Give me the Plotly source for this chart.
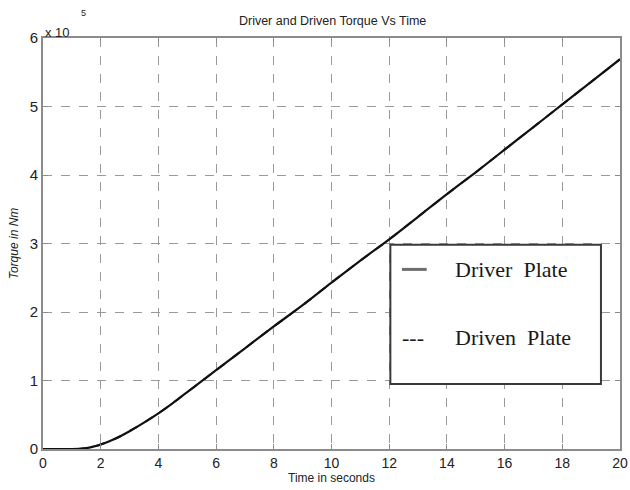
import plotly.graph_objects as go

# Time samples (s) and torque (units of 1e5 N·m)
time_s = [0, 0.5, 1.0, 1.25, 1.5, 1.75, 2.0, 2.5, 3.0, 3.5, 4.0, 4.5, 5.0, 5.5,
          6.0, 7.0, 8.0, 9.0, 10.0, 11.0, 12.0, 13.0, 14.0, 15.0, 16.0, 17.0,
          18.0, 19.0, 20.0]
driver_torque = [0, 0, 0, 0.003, 0.012, 0.035, 0.065, 0.15, 0.26, 0.385, 0.52,
                 0.67, 0.83, 0.99, 1.15, 1.47, 1.79, 2.10, 2.43, 2.75, 3.06,
                 3.39, 3.72, 4.04, 4.37, 4.70, 5.03, 5.36, 5.69]
driven_torque = [0, 0, 0, 0.003, 0.012, 0.035, 0.065, 0.15, 0.26, 0.385, 0.52,
                 0.67, 0.83, 0.99, 1.15, 1.47, 1.79, 2.10, 2.43, 2.75, 3.06,
                 3.39, 3.72, 4.04, 4.37, 4.70, 5.03, 5.36, 5.69]

x_ticks = [0, 2, 4, 6, 8, 10, 12, 14, 16, 18, 20]
y_ticks = [0, 1, 2, 3, 4, 5, 6]

fig = go.Figure()
fig.add_trace(go.Scatter(x=time_s, y=driven_torque, mode="lines", name="Driven Plate",
                         line=dict(color="#2a2a6a", width=2, dash="dash", shape="spline")))
fig.add_trace(go.Scatter(x=time_s, y=driver_torque, mode="lines", name="Driver Plate",
                         line=dict(color="#111111", width=2.2, shape="spline")))

axis_common = dict(
    showgrid=True, gridcolor="#9a9a9a", gridwidth=1, griddash="dash",
    showline=True, linecolor="#8c8c8c", linewidth=2, mirror="ticks",
    ticks="inside", ticklen=5, tickcolor="#8c8c8c",
    zeroline=False, automargin=False,
)

fig.update_xaxes(range=[0, 20], tickvals=x_ticks, ticktext=[str(v) for v in x_ticks],
                 tickfont=dict(family="Liberation Sans, Arial", size=14, color="#222222"),
                 title=dict(text="Time in seconds", standoff=2,
                            font=dict(family="Liberation Sans, Arial", size=12, color="#222222")),
                 **axis_common)
fig.update_yaxes(range=[0, 6], tickvals=y_ticks, ticktext=[str(v) for v in y_ticks],
                 tickfont=dict(family="Liberation Sans, Arial", size=15, color="#222222"),
                 title=dict(text="<i>Torque in Nm</i>", standoff=8,
                            font=dict(family="Liberation Sans, Arial", size=12, color="#222222")),
                 **axis_common)

# Legend box drawn as a framed panel
legend_shapes = [
    dict(type="rect", xref="paper", yref="paper", x0=0.602, x1=0.967, y0=0.158, y1=0.497,
         fillcolor="white", line=dict(color="#3a3a3a", width=2), layer="above"),
    dict(type="line", xref="paper", yref="paper", x0=0.622, x1=0.665, y0=0.437, y1=0.437,
         line=dict(color="#6e6e6e", width=3), layer="above"),
]

legend_font = dict(family="Liberation Serif, Times New Roman", size=22, color="#1a1a1a")
annotations = [
    dict(text="Driver&nbsp;&nbsp;Plate", xref="paper", yref="paper", x=0.710, y=0.437,
         xanchor="left", yanchor="middle", showarrow=False, font=legend_font),
    dict(text="---", xref="paper", yref="paper", x=0.641, y=0.272,
         xanchor="center", yanchor="middle", showarrow=False, font=legend_font),
    dict(text="Driven&nbsp;&nbsp;Plate", xref="paper", yref="paper", x=0.710, y=0.272,
         xanchor="left", yanchor="middle", showarrow=False, font=legend_font),
    dict(text="x 10", xref="paper", yref="paper", x=0.0, y=1.0, xanchor="left", yanchor="bottom",
         yshift=-4, showarrow=False,
         font=dict(family="Liberation Sans, Arial", size=13, color="#222222")),
    dict(text="5", xref="paper", yref="paper", x=0.063, y=1.045, xanchor="left", yanchor="bottom",
         showarrow=False, font=dict(family="Liberation Sans, Arial", size=9, color="#222222")),
]

fig.update_layout(
    width=630, height=490,
    margin=dict(l=43, r=10, t=38, b=41),
    paper_bgcolor="white", plot_bgcolor="white",
    showlegend=False,
    title=dict(text="Driver and Driven Torque Vs Time", x=0.528, xanchor="center",
               y=0.958, yanchor="middle",
               font=dict(family="Liberation Sans, Arial", size=12.5, color="#222222")),
    shapes=legend_shapes,
    annotations=annotations,
)

fig.write_html("out.html")
